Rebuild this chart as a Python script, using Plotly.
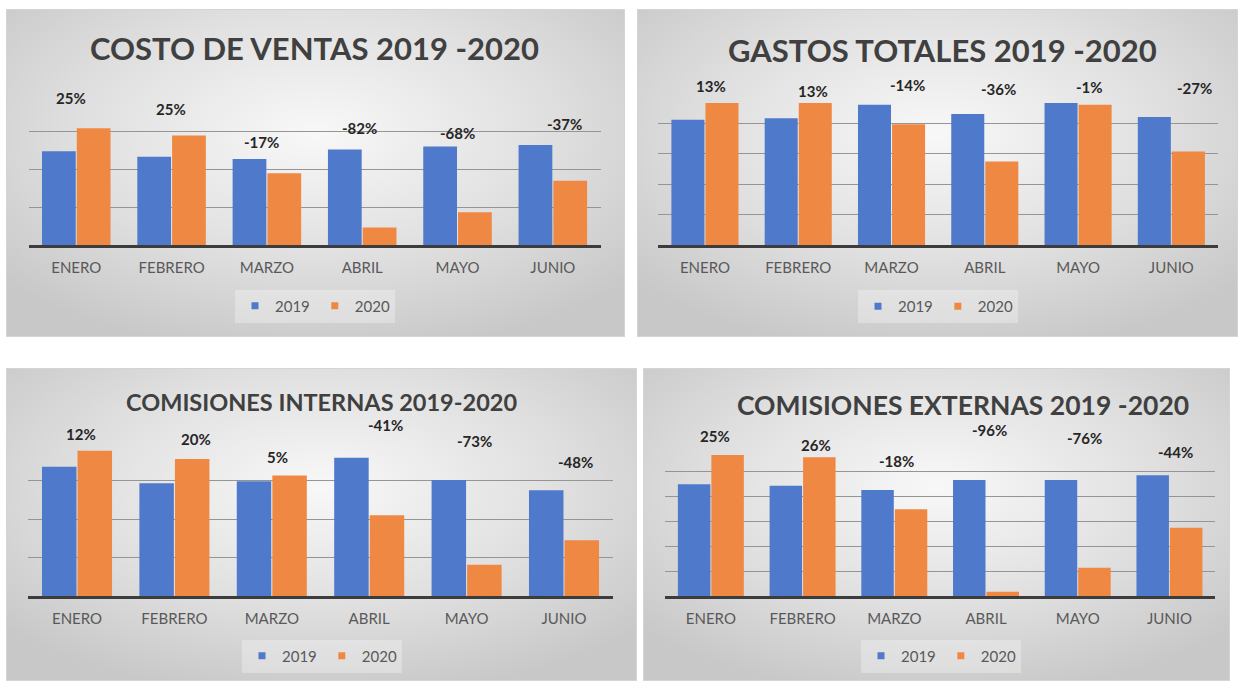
import base64
import plotly.graph_objects as go

# ---------------- data ----------------
meses = ["ENERO", "FEBRERO", "MARZO", "ABRIL", "MAYO", "JUNIO"]
series_names = ["2019", "2020"]

costo_2019 = [2.47, 2.32, 2.26, 2.51, 2.59, 2.63]
costo_2020 = [3.07, 2.88, 1.89, 0.46, 0.86, 1.69]
costo_var = ["25%", "25%", "-17%", "-82%", "-68%", "-37%"]

gastos_2019 = [4.13, 4.18, 4.62, 4.32, 4.68, 4.22]
gastos_2020 = [4.68, 4.68, 3.98, 2.75, 4.62, 3.08]
gastos_var = ["13%", "13%", "-14%", "-36%", "-1%", "-27%"]

cint_2019 = [3.36, 2.93, 2.98, 3.59, 3.01, 2.75]
cint_2020 = [3.77, 3.56, 3.13, 2.10, 0.81, 1.45]
cint_var = ["12%", "20%", "5%", "-41%", "-73%", "-48%"]

cext_2019 = [4.47, 4.41, 4.24, 4.64, 4.64, 4.83]
cext_2020 = [5.64, 5.55, 3.47, 0.17, 1.13, 2.73]
cext_var = ["25%", "26%", "-18%", "-96%", "-76%", "-44%"]

titles = ["COSTO DE VENTAS 2019 -2020", "GASTOS TOTALES 2019 -2020",
          "COMISIONES INTERNAS 2019-2020", "COMISIONES EXTERNAS 2019 -2020"]

# ---------------- layout (positions/styles) ----------------
W, H = 1239, 681
C19, C20 = "#4f7acb", "#ef8842"
FONT = "Lato"


def px(x):
    return x / W


def py(y):
    return 1 - y / H


panels = [
    dict(s19=costo_2019, s20=costo_2020, var=costo_var, title=titles[0],
         box=(6, 9, 625, 337), plot=(28.6, 93, 600.5, 245), ymax=4,
         title_xy=(314, 48), title_size=31, legend_xy=(315, 306),
         lab_y=[3.88, 3.58, 2.72, 3.08, 2.95, 3.18],
         lab_dx=[-5, -1, -5, -3, 0, 12]),
    dict(s19=gastos_2019, s20=gastos_2020, var=gastos_var, title=titles[1],
         box=(637, 9, 1238, 337), plot=(658.3, 93.3, 1218, 245), ymax=5,
         title_xy=(942, 50), title_size=31, legend_xy=(938, 306.5),
         lab_y=[5.25, 5.09, 5.28, 5.14, 5.22, 5.17],
         lab_dx=[6, 15, 16, 14, 11, 23]),
    dict(s19=cint_2019, s20=cint_2020, var=cint_var, title=titles[2],
         box=(6, 368, 637, 681), plot=(28.3, 442, 612.7, 596), ymax=4,
         title_xy=(321, 401.5), title_size=23.5, legend_xy=(322, 656),
         lab_y=[4.2, 4.08, 3.6, 4.44, 4.03, 3.48],
         lab_dx=[4, 22, 6, 16, 8, 11]),
    dict(s19=cext_2019, s20=cext_2020, var=cext_var, title=titles[3],
         box=(643, 368, 1230, 681), plot=(665, 446, 1215.3, 596), ymax=6,
         title_xy=(963, 405), title_size=26.5, legend_xy=(941, 656),
         lab_y=[6.4, 6.04, 5.41, 6.64, 6.31, 5.77],
         lab_dx=[4, 13, 2, 3, 7, 6]),
]


def bg_uri(w, h):
    svg = (f'<svg xmlns="http://www.w3.org/2000/svg" width="{w}" height="{h}" '
           f'viewBox="0 0 {w} {h}" preserveAspectRatio="none">'
           '<defs><radialGradient id="g" cx="50%" cy="38%" r="68%">'
           '<stop offset="0" stop-color="#f8f8f8"/>'
           '<stop offset="0.55" stop-color="#e0e0e0"/>'
           '<stop offset="1" stop-color="#c8c8c8"/></radialGradient></defs>'
           f'<rect x="0.5" y="0.5" width="{w - 1}" height="{h - 1}" fill="url(#g)" '
           'stroke="#d4d4d4" stroke-width="1"/></svg>')
    return "data:image/svg+xml;base64," + base64.b64encode(svg.encode()).decode()


fig = go.Figure()
annotations = []
images = []
layout_axes = {}

for i, p in enumerate(panels):
    n = "" if i == 0 else str(i + 1)
    xa, ya = "x" + n, "y" + n
    leg = "legend" + n
    fig.add_trace(go.Bar(x=meses, y=p["s19"], name=series_names[0], marker_color=C19,
                         xaxis=xa, yaxis=ya, showlegend=False, marker_line_width=0))
    fig.add_trace(go.Bar(x=meses, y=p["s20"], name=series_names[1], marker_color=C20,
                         xaxis=xa, yaxis=ya, showlegend=False, marker_line_width=0))
    # legend entries (small square keys, as in the original)
    for nm, col in zip(series_names, [C19, C20]):
        fig.add_trace(go.Scatter(x=[None], y=[None], mode="markers", name=nm,
                                 marker=dict(symbol="square", size=7, color=col),
                                 xaxis=xa, yaxis=ya, legend=leg, showlegend=True))

    x0, y0, x1, y1 = p["plot"]
    layout_axes["xaxis" + n] = dict(
        domain=[px(x0), px(x1)], anchor=ya, showline=True, linecolor="#3c3c3c",
        linewidth=2.6, ticks="", showgrid=False, zeroline=False,
        tickfont=dict(family=FONT, size=15, color="#595959"),
        ticklabelstandoff=7, fixedrange=True)
    layout_axes["yaxis" + n] = dict(
        domain=[py(y1), py(y0)], anchor=xa, range=[0, p["ymax"]], dtick=1,
        showticklabels=False, showgrid=True, gridcolor="#959595", gridwidth=1,
        zeroline=False, showline=False, fixedrange=True)
    layout_axes[leg] = dict(
        orientation="h", x=px(p["legend_xy"][0]), y=py(p["legend_xy"][1]),
        xanchor="center", yanchor="middle", bgcolor="rgba(255,255,255,0.30)",
        font=dict(family=FONT, size=15, color="#595959"), itemwidth=30,
        traceorder="normal", tracegroupgap=0)

    bx0, by0, bx1, by1 = p["box"]
    images.append(dict(source=bg_uri(bx1 - bx0, by1 - by0), xref="paper", yref="paper",
                       x=px(bx0), y=py(by0), sizex=px(bx1) - px(bx0),
                       sizey=py(by0) - py(by1), sizing="stretch", layer="below",
                       xanchor="left", yanchor="top"))

    annotations.append(dict(text=f"<b>{p['title']}</b>", xref="paper", yref="paper",
                            x=px(p["title_xy"][0]), y=py(p["title_xy"][1]),
                            xanchor="center", yanchor="middle", showarrow=False,
                            font=dict(family=FONT, size=p["title_size"], color="#404040")))
    for m, t, ly, dx in zip(meses, p["var"], p["lab_y"], p["lab_dx"]):
        annotations.append(dict(text=f"<b>{t}</b>", xref=xa, yref=ya + " domain",
                                x=m, y=ly / p["ymax"],
                                xshift=dx, xanchor="center", yanchor="middle",
                                showarrow=False,
                                font=dict(family=FONT, size=15, color="#262626")))

fig.update_layout(
    width=W, height=H, margin=dict(l=0, r=0, t=0, b=0),
    paper_bgcolor="#ffffff", plot_bgcolor="rgba(0,0,0,0)",
    barmode="group", bargap=0.27, bargroupgap=0.03,
    annotations=annotations, images=images, showlegend=True,
    **layout_axes)

fig.write_html("out.html", config={"displayModeBar": False},
               post_script="document.body.style.margin='0';document.body.style.padding='0';")
